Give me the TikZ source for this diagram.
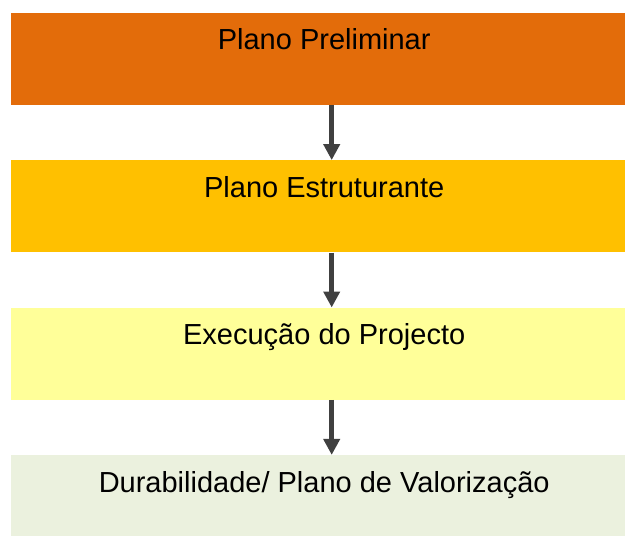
\documentclass[tikz,border=0pt]{standalone}
\usepackage{fontspec}
\setmainfont{Liberation Sans}
\usetikzlibrary{arrows.meta,positioning}
\definecolor{cPre}{HTML}{E36C0A}
\definecolor{cEst}{HTML}{FFC000}
\definecolor{cExe}{HTML}{FFFF99}
\definecolor{cDur}{HTML}{EBF1DE}
\definecolor{cInk}{HTML}{404040}
\tikzset{
  stage/.style ={draw=none,inner sep=0pt,minimum width=626pt,
                 text height=37pt,text depth=55pt,font=\fontsize{29}{33}\selectfont},
  ar/.style    ={-{Triangle[width=16pt,length=16pt]},line width=5pt,cInk},
}
\begin{document}
\begin{tikzpicture}[node distance=55pt]
\useasboundingbox (0,0) rectangle (625pt,-536pt);
\node[stage,fill=cPre,anchor=north west] (pre) at (11pt,-12.7pt) {Plano Preliminar};
\node[stage,fill=cEst,below=of pre] (est) {Plano Estruturante};
\node[stage,fill=cExe,below=of est] (exe) {Execução do Projecto};
\node[stage,fill=cDur,below=of exe] (dur) {Durabilidade/ Plano de Valorização\hspace{10pt}};
% arrows between stages, a little right of centre
\draw[ar] ([xshift=7.5pt]pre.south) -- ([xshift=7.5pt]est.north);
\draw[ar] ([xshift=7.5pt]est.south) -- ([xshift=7.5pt]exe.north);
\draw[ar] ([xshift=7.5pt]exe.south) -- ([xshift=7.5pt]dur.north);
\end{tikzpicture}
\end{document}
